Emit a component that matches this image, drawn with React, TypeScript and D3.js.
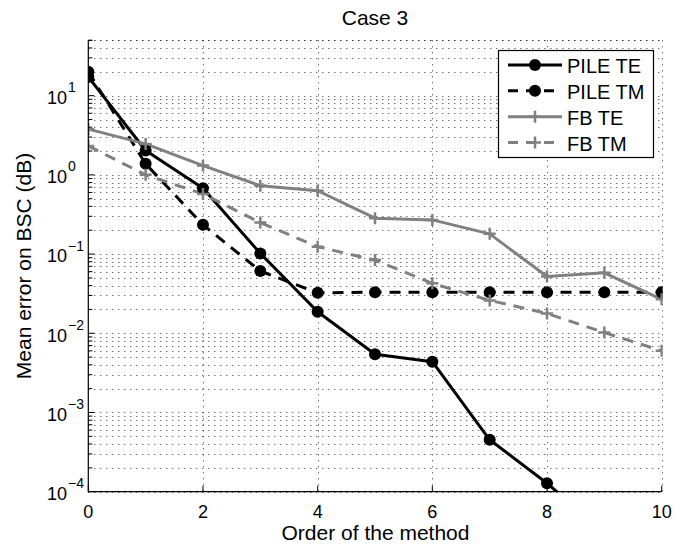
import React from "react";
import * as d3 from "d3";

const orders = [0, 1, 2, 3, 4, 5, 6, 7, 8, 9, 10];
const pileTE = [17.2, 2.03, 0.68, 0.102, 0.0187, 0.00543, 0.00438, 0.000452, 0.000128, 0.00003, 0.00001];
const pileTM = [20, 1.38, 0.234, 0.061, 0.0324, 0.033, 0.033, 0.033, 0.033, 0.033, 0.033];
const fbTE = [3.78, 2.46, 1.31, 0.73, 0.63, 0.284, 0.27, 0.18, 0.052, 0.058, 0.0268];
const fbTM = [2.32, 1.0, 0.575, 0.25, 0.124, 0.084, 0.0427, 0.026, 0.0178, 0.0102, 0.006];
const seriesNames = ["PILE TE", "PILE TM", "FB TE", "FB TM"];
const xTicks = [0, 2, 4, 6, 8, 10];
const yDecades = [-4, -3, -2, -1, 0, 1];

const W = 695, H = 546;
const L = 88.3, R = 661.7, T = 40.3, B = 491.7;
const FONT = "Liberation Sans, Arial, sans-serif";
const GRAY = "#808080";

export default function App() {
  const x = d3.scaleLinear().domain([0, 10]).range([L, R]);
  const y = d3.scaleLog().domain([1e-4, 50]).range([B, T]);

  const minorVals: number[] = [];
  for (let e = -4; e <= 1; e++) {
    for (let m = 1; m <= 9; m++) {
      const v = m * Math.pow(10, e);
      if (v <= 50 && v >= 1e-4) minorVals.push(v);
    }
  }
  minorVals.push(50);

  const line = d3
    .line<[number, number]>()
    .x((d) => x(d[0]))
    .y((d) => y(d[1]));

  const series = [
    { name: seriesNames[0], data: pileTE, color: "#000", dash: "", marker: "circle" },
    { name: seriesNames[1], data: pileTM, color: "#000", dash: "11,8", marker: "circle" },
    { name: seriesNames[2], data: fbTE, color: GRAY, dash: "", marker: "plus" },
    { name: seriesNames[3], data: fbTM, color: GRAY, dash: "11,8", marker: "plus" },
  ];

  const marker = (m: string, cx: number, cy: number, color: string, key: string) =>
    m === "circle" ? (
      <circle key={key} cx={cx} cy={cy} r={6} fill={color} />
    ) : (
      <path
        key={key}
        d={`M${cx - 6},${cy}H${cx + 6}M${cx},${cy - 6}V${cy + 6}`}
        stroke={color}
        strokeWidth={2.5}
        fill="none"
      />
    );

  const legX = 498.5, legY = 50.5, legW = 155, legH = 107;
  const legRows = [65, 90.8, 116.7, 142.6];

  return (
    <svg
      width={W}
      height={H}
      style={{ position: "absolute", left: 0, top: 0, background: "#fff" }}
      fontFamily={FONT}
    >
      <defs>
        <clipPath id="plotclip">
          <rect x={L} y={T - 1} width={R - L + 1} height={B - T + 1} />
        </clipPath>
      </defs>
      <rect x={0} y={0} width={W} height={H} fill="#fff" />
      {/* horizontal grid */}
      {minorVals.map((v, i) => (
        <line
          key={"hg" + i}
          x1={L}
          x2={R}
          y1={Math.round(y(v)) + 0.5}
          y2={Math.round(y(v)) + 0.5}
          stroke="#000"
          strokeWidth={1}
          strokeDasharray="1,5"
          opacity={0.8}
        />
      ))}
      {/* vertical grid */}
      {xTicks.slice(1).map((t) => (
        <line
          key={"vg" + t}
          x1={Math.round(x(t)) + 0.5}
          x2={Math.round(x(t)) + 0.5}
          y1={T}
          y2={B}
          stroke="#000"
          strokeWidth={1}
          strokeDasharray="1,5"
          opacity={0.8}
        />
      ))}
      {/* series */}
      <g clipPath="url(#plotclip)">
        {series.map((s) => (
          <path
            key={s.name}
            d={line(orders.map((o, i) => [o, s.data[i]] as [number, number])) || ""}
            fill="none"
            stroke={s.color}
            strokeWidth={3}
            strokeDasharray={s.dash}
            strokeLinejoin="round"
          />
        ))}
        {series.map((s) =>
          orders.map((o, i) => marker(s.marker, x(o), y(s.data[i]), s.color, s.name + i))
        )}
      </g>
      {/* axes */}
      <line x1={L} x2={L} y1={T} y2={B} stroke="#000" strokeWidth={1.2} />
      <line x1={L} x2={R} y1={B} y2={B} stroke="#000" strokeWidth={1.2} />
      {minorVals.map((v, i) => {
        const major = Math.abs(Math.log10(v) - Math.round(Math.log10(v))) < 1e-9;
        return (
          <line
            key={"yt" + i}
            x1={L}
            x2={L + (major ? 6 : 4)}
            y1={y(v)}
            y2={y(v)}
            stroke="#000"
            strokeWidth={1}
          />
        );
      })}
      {xTicks.map((t) => (
        <line key={"xt" + t} x1={x(t)} x2={x(t)} y1={B} y2={B - 6} stroke="#000" strokeWidth={1} />
      ))}
      {/* tick labels */}
      {xTicks.map((t) => (
        <text key={"xl" + t} x={x(t)} y={517.5} fontSize={18} textAnchor="middle" fill="#000">
          {t}
        </text>
      ))}
      {yDecades.map((e) => {
        const yy = y(Math.pow(10, e));
        const exp = e < 0 ? "\u2212" + Math.abs(e) : String(e);
        return (
          <g key={"yl" + e}>
            <text x={67} y={yy + 8.3} fontSize={18} textAnchor="end" fill="#000">
              10
            </text>
            <text x={68} y={yy - 3.5} fontSize={14} textAnchor="start" fill="#000">
              {exp}
            </text>
          </g>
        );
      })}
      {/* titles */}
      <text x={375} y={25} fontSize={21} textAnchor="middle" fill="#000">
        Case 3
      </text>
      <text x={375.5} y={539.5} fontSize={21} textAnchor="middle" fill="#000">
        Order of the method
      </text>
      <text
        x={0}
        y={0}
        fontSize={21}
        textAnchor="middle"
        fill="#000"
        transform={`translate(30.5,266) rotate(-90)`}
      >
        Mean error on BSC (dB)
      </text>
      {/* legend */}
      <rect x={legX} y={legY} width={legW} height={legH} fill="#fff" stroke="#000" strokeWidth={1.2} />
      {series.map((s, i) => (
        <g key={"leg" + i}>
          <line
            x1={508}
            x2={562}
            y1={legRows[i]}
            y2={legRows[i]}
            stroke={s.color}
            strokeWidth={3}
            strokeDasharray={s.dash ? "10,8" : ""}
          />
          {marker(s.marker, 535, legRows[i], s.color, "lm" + i)}
          <text x={567} y={legRows[i] + 8} fontSize={20} fill="#000">
            {s.name}
          </text>
        </g>
      ))}
    </svg>
  );
}
